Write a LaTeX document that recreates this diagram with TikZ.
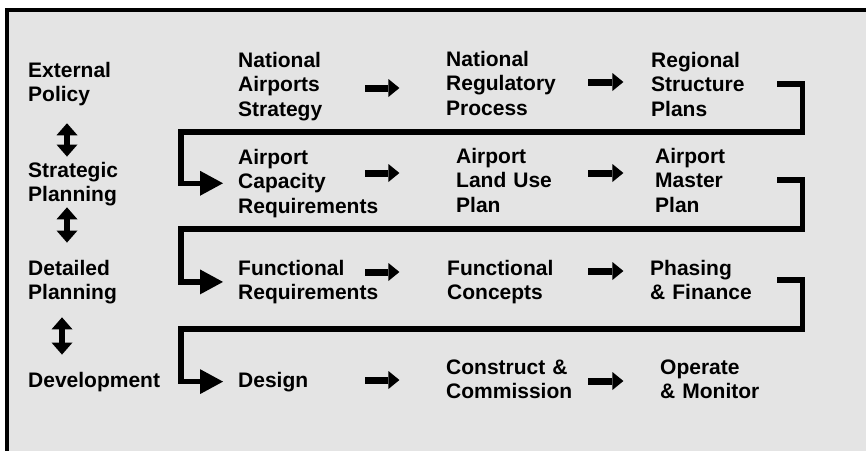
\documentclass[tikz,border=0pt]{standalone}
\usepackage{fontspec}
\setmainfont{Liberation Sans}
\usetikzlibrary{arrows.meta}

\definecolor{panel}{RGB}{228,228,228}

\tikzset{
  lbl/.style={anchor=base west, inner sep=0pt, align=left,
    font=\fontsize{21}{24.7}\selectfont\bfseries},
  flow/.style={line width=7pt,
    -{Triangle[length=11pt,width=18pt,line width=0pt]}},
  link/.style={line width=5.5pt, line join=miter,
    -{Triangle[length=23pt,width=25pt,line width=0pt]}},
  updown/.style={line width=5.5pt,
    {Triangle[length=12pt,width=21pt,line width=0pt]}-{Triangle[length=12pt,width=21pt,line width=0pt]}}
}

\begin{document}
\begin{tikzpicture}[x=1pt,y=-1pt]

\clip (0,0) rectangle (866,450);
\fill[panel] (7,9.5) rectangle (900,480);
\draw[line width=4pt] (7,9.5) rectangle (900,480);

% planning levels
\node[lbl, text width=150pt] (external) at (28,77) {External\\Policy};
\node[lbl, text width=150pt] (strategic) at (28,177) {Strategic\\Planning};
\node[lbl, text width=150pt] (detailed) at (28,275) {Detailed\\Planning};
\node[lbl, text width=150pt] (development) at (28,387) {Development};

\draw[updown, shorten <=17pt, shorten >=5pt] (external.south -| 67,0) -- (strategic.north -| 67,0);
\draw[updown, shorten <=1pt, shorten >=17pt] (strategic.south -| 67,0) -- (detailed.north -| 67,0);
\draw[updown, shorten <=13pt, shorten >=17pt] (detailed.south -| 62,0) -- (development.north -| 62,0);

% first row
\node[lbl, text width=127pt] (strategy) at (238,67) {National\\Airports\\Strategy};
\node[lbl, text width=142pt] (regulatory) at (446,66) {National\\Regulatory\\Process};
\node[lbl, text width=126pt] (regional) at (651,67) {Regional\\Structure\\Plans};

% second row
\node[lbl, text width=127pt] (capacity) at (238,164) {Airport\\Capacity\\Requirements};
\node[lbl, text width=132pt] (landuse) at (456,163) {Airport\\Land Use\\Plan};
\node[lbl, text width=122pt] (master) at (655,163) {Airport\\Master\\Plan};

% third row
\node[lbl, text width=127pt] (funcreq) at (238,275) {Functional\\Requirements};
\node[lbl, text width=141pt] (funcconc) at (447,275) {Functional\\Concepts};
\node[lbl, text width=127pt] (finance) at (650,275) {Phasing\\\& Finance};

% fourth row
\node[lbl, text width=127pt] (design) at (238,387) {Design};
\node[lbl, text width=142pt] (construct) at (446,374) {Construct \&\\Commission};
\node[lbl, text width=120pt] (operate) at (660,374) {Operate\\\& Monitor};

% steps along each row
\draw[flow] (strategy.east |- 0,88) -- ++(34,0);
\draw[flow] (regulatory.east |- 0,82) -- ++(35,0);
\draw[flow] (capacity.east |- 0,173) -- ++(34,0);
\draw[flow] (landuse.east |- 0,173) -- ++(35,0);
\draw[flow] (funcreq.east |- 0,272) -- ++(34,0);
\draw[flow] (funcconc.east |- 0,271) -- ++(35,0);
\draw[flow] (design.east |- 0,380) -- ++(34,0);
\draw[flow] (construct.east |- 0,381) -- ++(35,0);

% turns down to the next row
\draw[link] (regional.east) -| ++(25,48) -| ([xshift=-57pt]capacity.west) -- ([xshift=-15pt]capacity.west);
\draw[link] (master.east) -| ++(25,49) -| ([xshift=-57pt]funcreq.west) -- ([xshift=-15pt]funcreq.west);
\draw[link] (finance.east) -| ++(25,49) -| ([xshift=-57pt]design.west) -- ([xshift=-15pt]design.west);

\end{tikzpicture}
\end{document}
